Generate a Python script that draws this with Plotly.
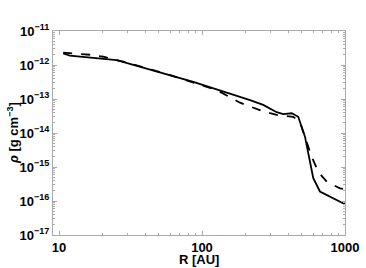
import plotly.graph_objects as go

# solid line
R_solid = [10.7, 11.9, 25.3, 36.8, 56.6, 86.9, 216.7, 268, 333, 370, 424, 471, 525, 569, 600, 668, 1000]
rho_solid = [2.2e-12, 1.88e-12, 1.40e-12, 8.9e-13, 5.4e-13, 3.2e-13, 9.3e-14, 6.7e-14, 4.1e-14, 3.6e-14, 3.8e-14, 3.0e-14, 7.8e-15, 1.6e-15, 4.7e-16, 1.9e-16, 8.0e-17]

# dashed line
R_dash = [10.7, 13.3, 16.5, 20.4, 31.4, 56.6, 86.9, 126.8, 184.5, 216.7, 268, 333, 434, 484, 540, 585, 650, 745, 923, 1000]
rho_dash = [2.3e-12, 2.2e-12, 2.0e-12, 1.75e-12, 1.12e-12, 5.4e-13, 3.1e-13, 1.84e-13, 7.8e-14, 5.9e-14, 4.3e-14, 3.4e-14, 3.0e-14, 2.1e-14, 5.0e-15, 2.0e-15, 7.2e-16, 3.7e-16, 2.35e-16, 2.2e-16]

y_exps = [-11, -12, -13, -14, -15, -16, -17]
x_ticks = [10, 100, 1000]

y_tickvals = [10.0 ** e for e in y_exps]
y_ticktext = ["10<sup>\u2212%d</sup>" % (-e) for e in y_exps]
y_minor = [m * 10.0 ** e for e in range(-17, -11) for m in range(2, 10)]
x_minor = [m * 10.0 ** e for e in range(0, 3) for m in range(2, 10)]

fig = go.Figure()
fig.add_trace(go.Scatter(x=R_solid, y=rho_solid, mode="lines",
                         line=dict(color="black", width=1.8)))
fig.add_trace(go.Scatter(x=R_dash, y=rho_dash, mode="lines",
                         line=dict(color="black", width=1.8, dash="dash")))

frame = "#aaaaaa"
bold = dict(family="Liberation Sans, Arial, sans-serif", size=13, color="black", weight="bold")
fig.update_layout(
    width=366, height=268,
    margin=dict(l=53, r=21, t=31, b=33, autoexpand=False),
    paper_bgcolor="white", plot_bgcolor="white",
    showlegend=False,
    font=dict(family="Liberation Sans, Arial, sans-serif", size=12, color="black"),
    xaxis=dict(
        type="log", range=[0.958, 3.0], automargin=False,
        tickvals=x_ticks, ticktext=[str(v) for v in x_ticks],
        ticks="inside", ticklen=4, tickcolor=frame, tickwidth=1,
        minor=dict(tickvals=x_minor, ticks="inside", ticklen=2, tickcolor=frame),
        showline=True, linecolor=frame, linewidth=1, mirror="allticks",
        showgrid=False, zeroline=False,
        tickfont=bold,
    ),
    yaxis=dict(
        type="log", range=[-17, -11], automargin=False,
        tickvals=y_tickvals, ticktext=y_ticktext,
        ticks="inside", ticklen=4, tickcolor=frame, tickwidth=1,
        minor=dict(tickvals=y_minor, ticks="inside", ticklen=2, tickcolor=frame),
        showline=True, linecolor=frame, linewidth=1, mirror="allticks",
        showgrid=False, zeroline=False,
        tickfont=bold,
    ),
    annotations=[
        dict(text="R [AU]", xref="paper", yref="paper", x=0.5, y=0,
             xanchor="center", yanchor="bottom", yshift=-34,
             showarrow=False, font=bold),
        dict(text="<i>\u03c1</i> [g cm<sup>\u22123</sup>]", xref="paper", yref="paper",
             x=0, y=0.5, xshift=-40, xanchor="center", yanchor="middle",
             textangle=-90, showarrow=False, font=bold),
    ],
)

fig.write_html("out.html", config={"displayModeBar": False},
               post_script="document.body.style.margin='0';document.body.style.overflow='hidden';")
